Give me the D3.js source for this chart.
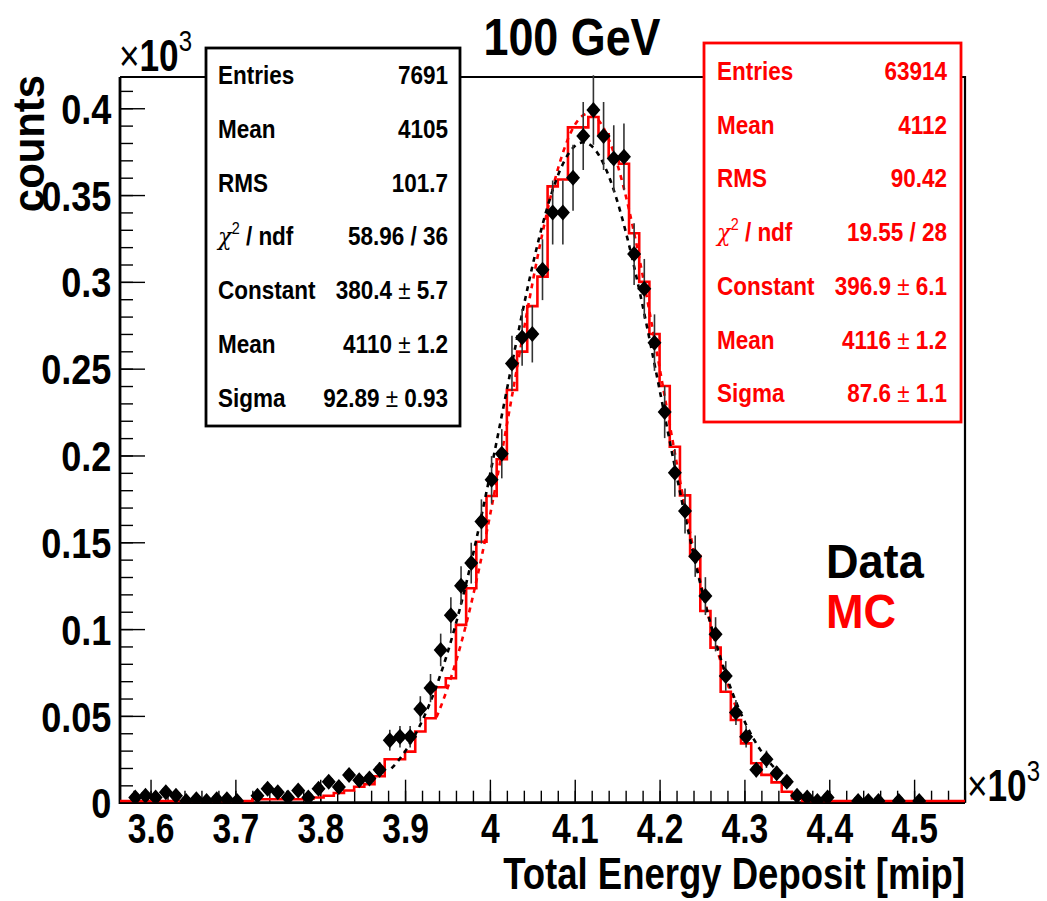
<!DOCTYPE html>
<html>
<head>
<meta charset="utf-8">
<script src="https://cdn.jsdelivr.net/npm/d3@7"></script>
<style>
  body { margin: 0; background: #fff; }
  text { font-family: "Liberation Sans", Arial, Helvetica, sans-serif; font-weight: bold; }
</style>
</head>
<body>
<svg id="chart" width="1047" height="901"></svg>
<script>
// histogram binning (mip)
const binLow = 3564;
const binWidth = 12;

// data counts per bin
const dataCounts = [
  0, 3, 4, 3, 6, 4, 1, 2, 1, 2, 2, 1, 0, 4, 8, 6, 3, 7, 3, 8,
  12, 9, 16, 13, 14, 19, 36, 38, 38, 54, 66, 88, 108, 125, 138, 162, 186, 201, 253, 268,
  270, 307, 340, 340, 360, 384, 399, 384, 371, 372, 316, 296, 265, 225, 190, 168, 142, 119, 97, 73,
  52, 38, 19, 25, 17, 12, 4, 3, 1, 3, 0, 0, 1, 1, 1, 0, 1, 0, 1, 0,
  0, 0, 0
];

// MC, normalised to data
const mcCounts = [
  1, 1, 1, 1, 1, 1, 1, 1, 1, 1, 1, 1, 1, 2, 2, 2, 2, 2, 2.3, 3,
  4, 5.6, 7, 9.2, 10.7, 15.2, 25, 25, 29.4, 41, 48.6, 66.5, 71.7, 102.4, 123.5, 150.3, 176.7, 197.8, 237.7, 259.8,
  286, 303, 355, 359, 389, 389, 395, 385, 372, 368, 328, 300, 270, 240, 205, 177, 142, 110.4, 89.3, 63.9,
  47.6, 34.2, 22.7, 16, 11.7, 6.3, 2.5, 1, 1, 1, 1, 1, 1, 1, 1, 1, 1, 1, 1, 1,
  1, 1, 1
];

// gaussian fits: [constant, mean, sigma], fit range
const dataFit = [380.4, 4110, 92.89];
const dataFitRange = [3884, 4352];
const mcFit = [396.9, 4116, 87.6];
const mcFitRange = [3937, 4296];

const xTicks = [3600, 3700, 3800, 3900, 4000, 4100, 4200, 4300, 4400, 4500];
const yTicks = [0, 50, 100, 150, 200, 250, 300, 350, 400];

const dataStats = [
  ["Entries", "7691"], ["Mean", "4105"], ["RMS", "101.7"], ["chi", "58.96 / 36"],
  ["Constant", "380.4 ± 5.7"], ["Mean", "4110 ± 1.2"], ["Sigma", "92.89 ± 0.93"]
];
const mcStats = [
  ["Entries", "63914"], ["Mean", "4112"], ["RMS", "90.42"], ["chi", "19.55 / 28"],
  ["Constant", "396.9 ± 6.1"], ["Mean", "4116 ± 1.2"], ["Sigma", "87.6 ± 1.1"]
];

const RED = "#ff0000";
const svg = d3.select("#chart");
const fr = { left: 120, right: 965, top: 77, bottom: 802.7 };
const nBins = dataCounts.length;

const x = d3.scaleLinear().domain([binLow, binLow + nBins * binWidth]).range([fr.left, fr.right]);
const y = d3.scaleLinear().domain([0, 418]).range([fr.bottom, fr.top]);

svg.append("rect").attr("width", 1047).attr("height", 901).attr("fill", "#fff");

svg.append("clipPath").attr("id", "plot")
  .append("rect").attr("x", fr.left).attr("y", fr.top - 2)
  .attr("width", fr.right - fr.left).attr("height", fr.bottom - fr.top + 2);

// text helper, ROOT fonts look narrow
function label(g, px, py, str, o) {
  return g.append("text")
    .attr("transform", `translate(${px},${py})` + (o.rot ? ` rotate(${o.rot})` : "") + ` scale(${o.sx || 0.86},1)`)
    .attr("text-anchor", o.anchor || "start")
    .attr("font-size", o.size)
    .attr("fill", o.fill || "#000")
    .text(str);
}

// axes, ticks inside the frame
const xMinor = d3.range(3580, 4561, 20);
const yMinor = d3.range(0, 418, 10);

const gx = svg.append("g").attr("transform", `translate(0,${fr.bottom})`);
gx.call(d3.axisBottom(x).tickValues(xMinor).tickSize(-12).tickSizeOuter(0).tickFormat(""));
gx.selectAll("line").attr("stroke-width", 1.4);
const gx2 = svg.append("g").attr("transform", `translate(0,${fr.bottom})`);
gx2.call(d3.axisBottom(x).tickValues(xTicks).tickSize(-23).tickSizeOuter(0).tickPadding(10)
  .tickFormat(d => String(d / 1000)));
gx2.selectAll("line").attr("stroke-width", 1.4);
gx2.selectAll("text").attr("font-size", 42).attr("transform", "scale(0.8,1)").attr("dy", "0.72em");

const gy = svg.append("g").attr("transform", `translate(${fr.left},0)`);
gy.call(d3.axisLeft(y).tickValues(yMinor).tickSize(-13).tickSizeOuter(0).tickFormat(""));
gy.selectAll("line").attr("stroke-width", 1.4);
const gy2 = svg.append("g").attr("transform", `translate(${fr.left},0)`);
gy2.call(d3.axisLeft(y).tickValues(yTicks).tickSize(-25).tickSizeOuter(0).tickPadding(10)
  .tickFormat(d => String(+(d / 1000).toFixed(2))));
gy2.selectAll("line").attr("stroke-width", 1.4);
gy2.selectAll("text").attr("font-size", 42).attr("transform", "scale(0.86,1)").attr("dy", "0.36em");
svg.selectAll(".domain").remove();

// frame
svg.append("path")
  .attr("d", `M${fr.left},${fr.top}H${fr.right}V${fr.bottom}`)
  .attr("fill", "none").attr("stroke", "#000").attr("stroke-width", 2.2);
svg.append("path")
  .attr("d", `M${fr.left},${fr.top}V${fr.bottom}H${fr.right}`)
  .attr("fill", "none").attr("stroke", "#000").attr("stroke-width", 2.8);

const plot = svg.append("g").attr("clip-path", "url(#plot)");

// MC histogram outline
const edges = mcCounts.map((v, i) => [binLow + i * binWidth, v]);
edges.push([binLow + nBins * binWidth, mcCounts[nBins - 1]]);
plot.append("path")
  .attr("d", d3.line().x(d => x(d[0])).y(d => y(d[1])).curve(d3.curveStepAfter)(edges))
  .attr("fill", "none").attr("stroke", RED).attr("stroke-width", 2.6);

// gaussian fit curves
function fitPath(p, range) {
  const pts = d3.range(range[0], range[1] + 0.01, 2)
    .map(m => [m, p[0] * Math.exp(-0.5 * ((m - p[1]) / p[2]) ** 2)]);
  return d3.line().x(d => x(d[0])).y(d => y(d[1]))(pts);
}
plot.append("path").attr("d", fitPath(mcFit, mcFitRange))
  .attr("fill", "none").attr("stroke", RED).attr("stroke-width", 2.6).attr("stroke-dasharray", "5,5");
plot.append("path").attr("d", fitPath(dataFit, dataFitRange))
  .attr("fill", "none").attr("stroke", "#000").attr("stroke-width", 2.6).attr("stroke-dasharray", "5,5");

// data points with sqrt(N) errors
const pts = dataCounts.map((v, i) => ({ m: binLow + (i + 0.5) * binWidth, v })).filter(d => d.v > 0);
plot.append("g").selectAll("line").data(pts).enter().append("line")
  .attr("x1", d => x(d.m)).attr("x2", d => x(d.m))
  .attr("y1", d => y(d.v - Math.sqrt(d.v))).attr("y2", d => y(d.v + Math.sqrt(d.v)))
  .attr("stroke", "#333").attr("stroke-width", 1.6);
const mk = plot.append("g").selectAll("g").data(pts).enter().append("g")
  .attr("transform", d => `translate(${x(d.m)},${y(d.v)})`);
mk.append("path").attr("d", "M0,-8L7,0L0,8L-7,0Z").attr("fill", "#000");
mk.append("circle").attr("r", 5).attr("fill", "#000");

// stats boxes
function statsBox(rows, box, color, lx, rx, y0, dy) {
  const g = svg.append("g");
  g.append("rect").attr("x", box[0]).attr("y", box[1]).attr("width", box[2]).attr("height", box[3])
    .attr("fill", "#fff").attr("stroke", color).attr("stroke-width", 2.8);
  rows.forEach((r, i) => {
    const by = y0 + i * dy;
    if (r[0] === "chi") {
      const t = label(g, lx, by, "", { size: 25, sx: 0.9, fill: color });
      t.append("tspan").attr("font-weight", "normal").attr("font-family", "DejaVu Serif, serif")
        .attr("font-style", "italic").text("χ");
      t.append("tspan").attr("font-weight", "normal").attr("font-size", 16).attr("dy", -11).text("2");
      t.append("tspan").attr("dy", 11).text(" / ndf");
    } else {
      label(g, lx, by, r[0], { size: 25, sx: 0.9, fill: color });
    }
    const parts = r[1].split("±");
    const t = label(g, rx, by, "", { size: 25, sx: 0.9, fill: color, anchor: "end" });
    t.append("tspan").text(parts[0]);
    if (parts.length > 1) {
      t.append("tspan").attr("font-weight", "normal").text("±");
      t.append("tspan").text(" " + parts[1].trim());
    }
  });
}
statsBox(dataStats, [206, 48, 254, 378], "#000", 218, 448, 84, 53.8);
statsBox(mcStats, [704, 43, 257, 379], RED, 717, 947, 80, 53.7);

// exponent labels
function exponent(px, py) {
  const t = label(svg, px, py, "", { size: 44, sx: 0.8 });
  t.append("tspan").attr("font-weight", "normal").text("×");
  t.append("tspan").text("10");
  t.append("tspan").attr("font-weight", "normal").attr("font-size", 30).attr("dy", -20).text("3");
}
exponent(119, 71);
exponent(967, 801);

// titles
label(svg, 572, 55, "100 GeV", { size: 51, sx: 0.88, anchor: "middle" });
label(svg, 965, 889, "Total Energy Deposit [mip]", { size: 44, sx: 0.83, anchor: "end" });
label(svg, 44, 75, "counts", { size: 45, sx: 0.93, anchor: "end", rot: -90 });
label(svg, 826, 578, "Data", { size: 49, sx: 0.92 });
label(svg, 826, 628, "MC", { size: 49, sx: 0.92, fill: RED });
</script>
</body>
</html>
